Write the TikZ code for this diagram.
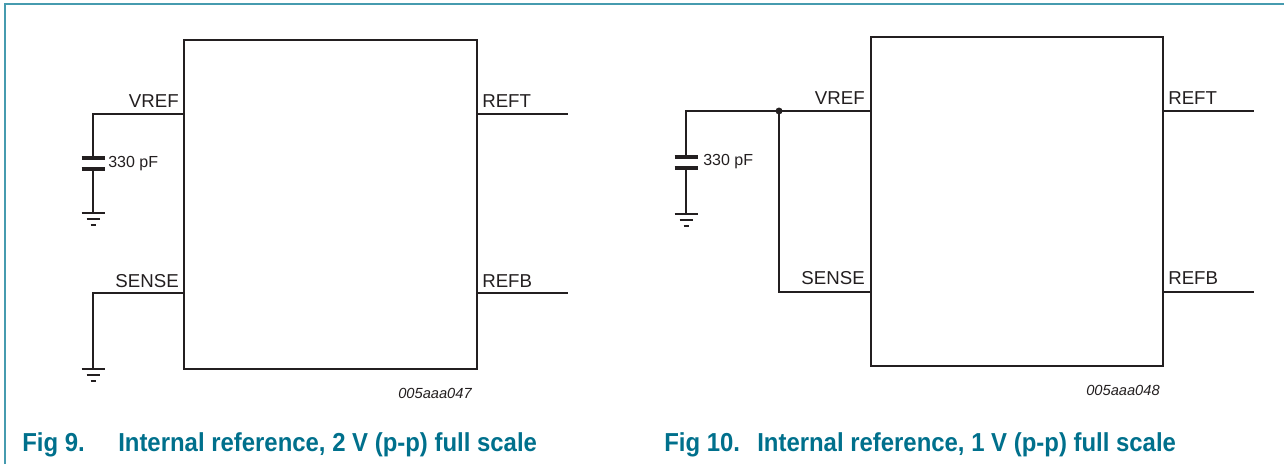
\documentclass[tikz,border=0pt]{standalone}
\usepackage{fontspec}
\setmainfont{Liberation Sans}
\newfontfamily\capfont[FakeStretch=0.92]{Liberation Sans}
\definecolor{capteal}{RGB}{0,112,140}
\definecolor{frameteal}{RGB}{70,155,175}
\definecolor{ink}{RGB}{35,31,32}
\tikzset{
  wire/.style={draw=ink, line width=1pt},
  chip/.style={draw=ink, line width=2.2pt, inner sep=0pt},
  pinlbl/.style={text=ink, font=\fontsize{14}{16}\selectfont, inner sep=0pt},
  vallbl/.style={text=ink, font=\fontsize{12}{14}\selectfont, inner sep=0pt},
  codelbl/.style={text=ink, font=\fontsize{11}{13}\selectfont\itshape, inner sep=0pt},
  caplbl/.style={text=capteal, font=\capfont\fontsize{19.5}{22}\selectfont\bfseries, inner sep=0pt, anchor=base west},
  gnd/.pic={
    \draw[ink, line width=1pt] (-11.5,0) -- (11.5,0);
    \draw[ink, line width=1pt] (-6.5,6) -- (6.5,6);
    \draw[ink, line width=1pt] (-2.5,12) -- (2.5,12);
  },
  capacitor/.pic={
    \draw[ink, line width=3pt] (-11.5,-5.5) -- (11.5,-5.5);
    \draw[ink, line width=3pt] (-11.5,5.5) -- (11.5,5.5);
  }
}
\begin{document}
\begin{tikzpicture}[x=0.75pt,y=-0.75pt]
\useasboundingbox (0,0) rectangle (1284,464);
% frame
\draw[frameteal, line width=1.1pt] (5,464) -- (5,4) -- (1284,4);

% ---------- Fig 9 ----------
\node[chip, minimum width=219.75pt, minimum height=246.75pt] (Lbox) at (330.5,204.5) {};
\coordinate (Lvrefpin) at (184,114);
\coordinate (Lvrefc) at (93,114);
\coordinate (Lcaptop) at (93,158);
\coordinate (Lcapbot) at (93,169);
\coordinate (Lgnd1) at (93,213);
\coordinate (Lsensepin) at (184,293);
\coordinate (Lsensec) at (93,293);
\coordinate (Lgnd2) at (93,369);
\coordinate (Lreftpin) at (477,114);
\coordinate (Lreftend) at (568,114);
\coordinate (Lrefbpin) at (477,293);
\coordinate (Lrefbend) at (568,293);

\draw[wire] (Lvrefpin) -- (Lvrefc) -- (Lcaptop);
\pic at (93,163.5) {capacitor};
\draw[wire] (Lcapbot) -- (Lgnd1);
\pic at (Lgnd1) {gnd};
\draw[wire] (Lsensepin) -- (Lsensec) -- (Lgnd2);
\pic at (Lgnd2) {gnd};
\draw[wire] (Lreftpin) -- (Lreftend);
\draw[wire] (Lrefbpin) -- (Lrefbend);

\node[pinlbl, anchor=base east] (Lvreflbl) at (179,107) {VREF};
\node[pinlbl, anchor=base east] (Lsenselbl) at (179,287) {SENSE};
\node[pinlbl, anchor=base west] (Lreftlbl) at (482,107) {REFT};
\node[pinlbl, anchor=base west] (Lrefblbl) at (482,287) {REFB};
\node[vallbl, anchor=west] (Lcapval) at (108,164) {330 pF};
\node[codelbl] (Lcode) at (435,393) {005aaa047};
\node[caplbl] (Lfig) at (22,451) {Fig 9.};
\node[caplbl] (Lcap) at (118,451) {Internal reference, 2 V (p-p) full scale};

% ---------- Fig 10 ----------
\node[chip, minimum width=219pt, minimum height=246.75pt] (Rbox) at (1017,201.5) {};
\coordinate (Rvrefpin) at (871,111);
\coordinate (Rjunc) at (779,111);
\coordinate (Rvrefc) at (686,111);
\coordinate (Rcaptop) at (686,157);
\coordinate (Rcapbot) at (686,168);
\coordinate (Rgnd1) at (686,214);
\coordinate (Rsensec) at (779,292);
\coordinate (Rsensepin) at (871,292);
\coordinate (Rreftpin) at (1163,111);
\coordinate (Rreftend) at (1254,111);
\coordinate (Rrefbpin) at (1163,292);
\coordinate (Rrefbend) at (1254,292);

\draw[wire] (Rvrefpin) -- (Rjunc) -- (Rvrefc) -- (Rcaptop);
\pic at (686,162.5) {capacitor};
\draw[wire] (Rcapbot) -- (Rgnd1);
\pic at (Rgnd1) {gnd};
\draw[wire] (Rjunc) -- (Rsensec) -- (Rsensepin);
\fill[ink] (Rjunc) circle (2.6pt);
\draw[wire] (Rreftpin) -- (Rreftend);
\draw[wire] (Rrefbpin) -- (Rrefbend);

\node[pinlbl, anchor=base east] (Rvreflbl) at (865,104) {VREF};
\node[pinlbl, anchor=base east] (Rsenselbl) at (865,284) {SENSE};
\node[pinlbl, anchor=base west] (Rreftlbl) at (1168,104) {REFT};
\node[pinlbl, anchor=base west] (Rrefblbl) at (1168,284) {REFB};
\node[vallbl, anchor=west] (Rcapval) at (703,162) {330 pF};
\node[codelbl] (Rcode) at (1123,390) {005aaa048};
\node[caplbl] (Rfig) at (664,451) {Fig 10.};
\node[caplbl] (Rcap) at (757,451) {Internal reference, 1 V (p-p) full scale};
\end{tikzpicture}
\end{document}
